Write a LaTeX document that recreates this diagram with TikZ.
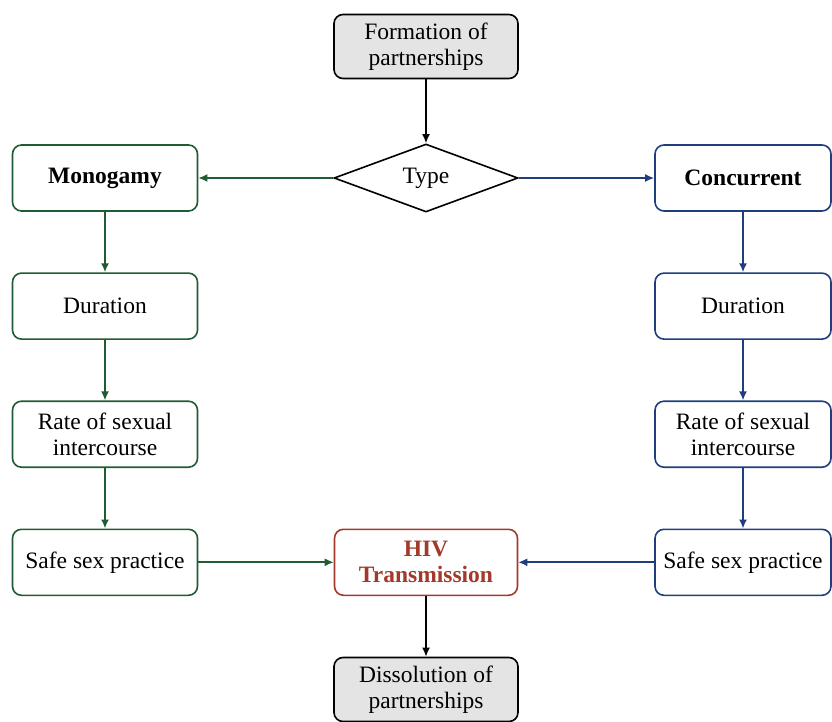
\documentclass[tikz,border=0pt]{standalone}
\usepackage{fontspec}
\setmainfont{Liberation Serif}
\usetikzlibrary{arrows.meta,positioning,shapes.geometric}

\definecolor{mono}{HTML}{1F5C32}
\definecolor{conc}{HTML}{1E3F7C}
\definecolor{hiv}{HTML}{A3392A}
\definecolor{endbox}{HTML}{E4E4E4}

\begin{document}
\begin{tikzpicture}[x=1pt,y=-1pt,font=\rmfamily\fontsize{23.5}{26}\selectfont,>={Latex[length=9pt,width=8pt]},
 box/.style={draw,rounded corners=9pt,align=center,line width=1.6pt,inner sep=2pt,minimum height=66pt},
 sidebox/.style={box,minimum width=185pt},
 rightbox/.style={box,minimum width=176pt},
 endstep/.style={box,fill=endbox,minimum width=184pt,minimum height=64pt},
 choice/.style={draw,diamond,line width=1.6pt,inner sep=0pt,minimum width=184pt,minimum height=68pt},
 strong/.style={font=\rmfamily\fontsize{23.5}{26}\selectfont\bfseries},
 arr/.style={->,line width=1.7pt}]

\useasboundingbox (0,0) rectangle (832,722);

\node[endstep] (form) at (426,46.5) {Formation of\\partnerships};
\node[choice] (type) at (426,178) {Type};

\node[sidebox,draw=mono,strong] (mono) at (105,178) {Monogamy};
\node[sidebox,draw=mono,below=60.5pt of mono] (mdur) {Duration};
\node[sidebox,draw=mono,below=60.5pt of mdur] (mrate) {Rate of sexual\\intercourse};
\node[sidebox,draw=mono,below=60.5pt of mrate] (msafe) {Safe sex practice};

\node[rightbox,draw=conc,strong] (conc) at (743,178) {Concurrent};
\node[rightbox,draw=conc,below=60.5pt of conc] (cdur) {Duration};
\node[rightbox,draw=conc,below=60.5pt of cdur] (crate) {Rate of sexual\\intercourse};
\node[rightbox,draw=conc,below=60.5pt of crate] (csafe) {Safe sex practice};

\node[box,draw=hiv,text=hiv,strong,minimum width=183pt] (hiv) at (msafe -| form) {HIV\\Transmission};
\node[endstep] (diss) at (426,689.5) {Dissolution of\\partnerships};

% flow
\draw[arr] (form) -- (type);
\draw[arr,mono] (type) -- (mono);
\draw[arr,conc] (type) -- (conc);
\draw[arr,mono] (mono) -- (mdur);
\draw[arr,mono] (mdur) -- (mrate);
\draw[arr,mono] (mrate) -- (msafe);
\draw[arr,conc] (conc) -- (cdur);
\draw[arr,conc] (cdur) -- (crate);
\draw[arr,conc] (crate) -- (csafe);
\draw[arr,mono] (msafe) -- (hiv);
\draw[arr,conc] (csafe) -- (hiv);
\draw[arr] (hiv) -- (diss);

\end{tikzpicture}
\end{document}
